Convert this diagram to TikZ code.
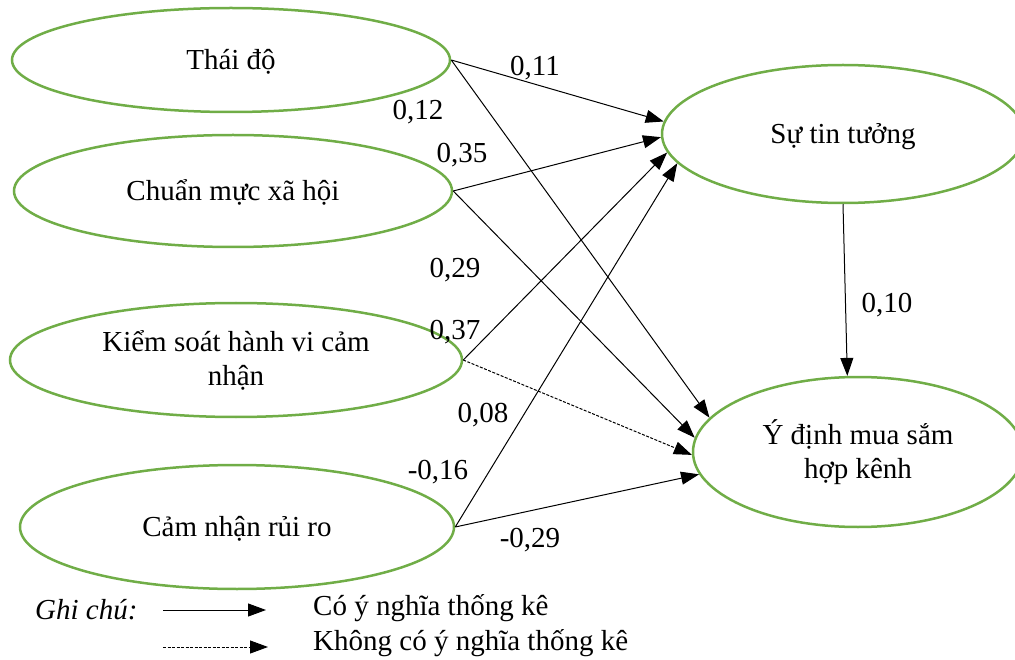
\documentclass[tikz,border=0pt]{standalone}
\usepackage{fontspec}
\setmainfont{Liberation Serif}
\usetikzlibrary{shapes.geometric,arrows.meta}
\definecolor{ogreen}{RGB}{112,173,71}
\begin{document}
\begin{tikzpicture}[x=1pt,y=-1pt,
  var/.style={ellipse,draw=ogreen,line width=2.5pt,inner sep=0pt,align=center,
    font=\fontsize{29}{34}\selectfont},
  oneline/.style={text height=19pt,text depth=0pt},
  lbl/.style={font=\fontsize{29}{34}\selectfont,inner sep=0pt},
  arr/.style={draw,line width=1pt,-{Triangle[length=18pt,width=13pt]}},
  nsarr/.style={arr,dash pattern=on 3pt off 1.5pt}]
\useasboundingbox (0,0) rectangle (1015,660);
% variables
\node[var,oneline,minimum width=438pt,minimum height=104pt] (td) at (231,60) {Thái độ};
\node[var,oneline,minimum width=438pt,minimum height=112pt] (cm) at (233,191) {Chuẩn mực xã hội};
\node[var,minimum width=452pt,minimum height=114pt] (ks) at (236,360) {Kiểm soát hành vi cảm\\nhận};
\node[var,oneline,minimum width=434pt,minimum height=124pt] (cn) at (237,527) {Cảm nhận rủi ro};
\node[var,oneline,minimum width=362pt,minimum height=138pt] (st) at (843,134) {Sự tin tưởng};
\node[var,minimum width=330pt,minimum height=150pt] (yd) at (858,452) {Ý định mua sắm\\hợp kênh};
% paths
\draw[arr] (td.east) -- (st.176);
\draw[arr] (td.east) -- (yd.167);
\draw[arr] (cm.east) -- (st.181);
\draw[arr] (cm.east) -- (yd.175);
\draw[arr] (ks.east) -- (st.186);
\draw[nsarr] (ks.east) -- (yd.181);
\draw[arr] (cn.east) -- (st.190);
\draw[arr] (cn.east) -- (yd.188);
\draw[arr] (st.south) -- (yd.98);
% labels
\node[lbl] (l1) at (535,68) {0,11};
\node[lbl] (l2) at (418,112) {0,12};
\node[lbl] (l3) at (462,155) {0,35};
\node[lbl] (l4) at (455,270) {0,29};
\node[lbl] (l5) at (455,332) {0,37};
\node[lbl] (l6) at (483,415) {0,08};
\node[lbl] (l7) at (438,472) {-0,16};
\node[lbl] (l8) at (530,540) {-0,29};
\node[lbl] (l9) at (887,305) {0,10};
% legend
\node[lbl,anchor=west] (gc) at (35,610) {\itshape Ghi chú:};
\coordinate (a1) at (163,610);
\coordinate (b1) at (266,610);
\coordinate (a2) at (163,647);
\coordinate (b2) at (268,647);
\draw[arr] (a1) -- (b1);
\draw[nsarr] (a2) -- (b2);
\node[lbl,anchor=west] (t1) at (313,608) {Có ý nghĩa thống kê};
\node[lbl,anchor=west] (t2) at (313,643) {Không có ý nghĩa thống kê};
\end{tikzpicture}
\end{document}
